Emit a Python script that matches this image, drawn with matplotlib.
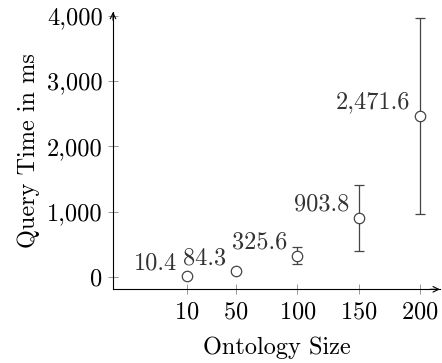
import matplotlib
matplotlib.use("Agg")
import matplotlib.pyplot as plt
from matplotlib.ticker import FuncFormatter

plt.rcParams['font.family'] = 'serif'
plt.rcParams['font.serif'] = ['cmr10']
plt.rcParams['mathtext.fontset'] = 'cm'
plt.rcParams['axes.formatter.use_mathtext'] = True

sizes = [10, 50, 100, 150, 200]
means = [10.4, 84.3, 325.6, 903.8, 2471.6]
errs = [8, 30, 130, 510, 1500]
labels = ["10.4", "84.3", "325.6", "903.8", "2,471.6"]
xticks = [10, 50, 100, 150, 200]
yticks = [0, 1000, 2000, 3000, 4000]

fig = plt.figure(figsize=(4.42, 3.63), dpi=100)
ax = fig.add_axes([0.2557, 0.203, 0.995 - 0.2557, 0.967 - 0.203])

ax.errorbar(sizes, means, yerr=errs, fmt='o', mfc='white', mec='#444444',
            ms=7.5, mew=0.9, ecolor='#444444', elinewidth=0.9, capsize=3.5, capthick=0.9)
for x, y, t in zip(sizes, means, labels):
    ax.annotate(t, (x, y), xytext=(-7, 9.5), textcoords='offset points',
                ha='right', va='center', fontsize=17.5, color='#333333')

ax.set_xlim(-50, 216)
ax.set_ylim(-190, 4060)
ax.set_xticks(xticks)
ax.set_yticks(yticks)
ax.yaxis.set_major_formatter(FuncFormatter(lambda v, p: f"{int(v):,}"))
ax.tick_params(direction='inout', length=7, width=0.6, color='#888888', labelsize=17.5, pad=4)
ax.tick_params(axis='x', pad=5.5)
for s in ['top', 'right']:
    ax.spines[s].set_visible(False)
for s in ['left', 'bottom']:
    ax.spines[s].set_linewidth(0.8)
ax.annotate('', xy=(1.0, 0), xytext=(0.97, 0), xycoords='axes fraction',
            arrowprops=dict(arrowstyle='->', lw=0.8, color='black', shrinkA=0, shrinkB=0))
ax.annotate('', xy=(0, 1.0), xytext=(0, 0.97), xycoords='axes fraction',
            arrowprops=dict(arrowstyle='->', lw=0.8, color='black', shrinkA=0, shrinkB=0))
ax.set_xlabel('Ontology Size', fontsize=17.5, labelpad=9)
ax.set_ylabel('Query Time in ms', fontsize=17.5, labelpad=5)

fig.savefig('out.png', dpi=100)
